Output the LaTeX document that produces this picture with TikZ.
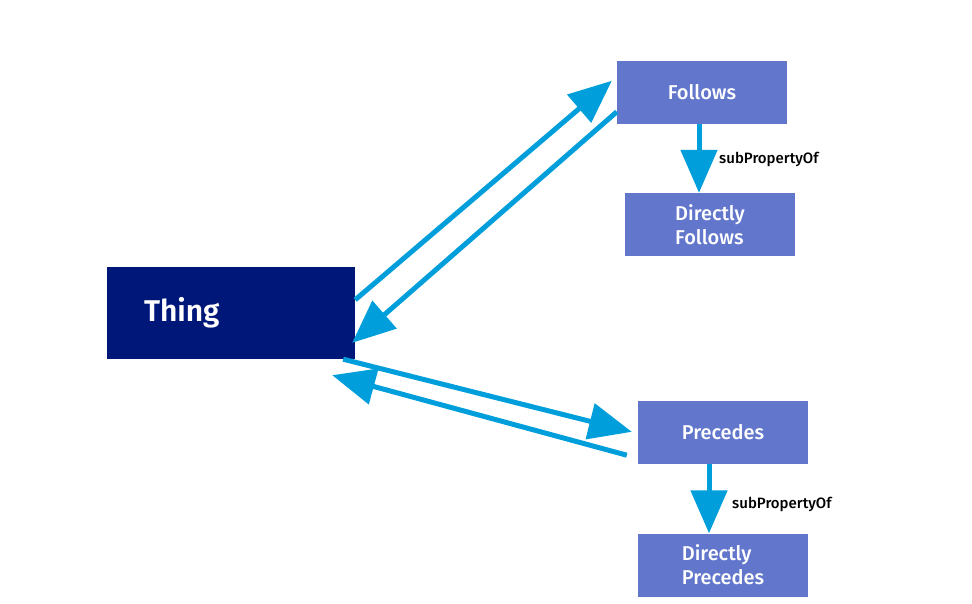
\documentclass[tikz,border=0pt]{standalone}
\usepackage{fontspec}
\setmainfont{Fira Sans}
\newfontfamily\semib{Fira Sans SemiBold}
\newfontfamily\medf{Fira Sans Medium}
\usetikzlibrary{arrows.meta,calc}
\definecolor{navy}{RGB}{0,23,122}
\definecolor{boxblue}{RGB}{98,119,204}
\definecolor{arrblue}{RGB}{0,158,219}
\tikzset{
  prop/.style={fill=boxblue, text=white, minimum width=170pt, minimum height=63pt, inner sep=0pt, font=\medf\fontsize{20}{24}\selectfont, align=left},
  thingbox/.style={fill=navy, text=white, minimum height=92pt, text width=174pt, inner xsep=37pt, inner ysep=0pt, align=left, font=\semib\fontsize{30}{34}\selectfont},
  arr/.style={draw=arrblue, line width=5pt, -{Triangle[length=43pt,width=36pt]}},
  lbl/.style={font=\medf\fontsize{15}{18}\selectfont, text=black, inner sep=0pt, anchor=west}
}
\begin{document}
\begin{tikzpicture}[x=1pt,y=-1pt]
\useasboundingbox (0,0) rectangle (972,603);
\node[thingbox] (thing) at (231,313) {Thing};
\node[prop] (follows) at (702,92.5) {Follows};
\node[prop] (dfollows) at (710,224.5) {Directly\\Follows};
\node[prop] (precedes) at (723,432.5) {Precedes};
\node[prop] (dprecedes) at (723,565) {Directly\\Precedes};
\draw[arr] ($(thing.north east)+(0,33)$) -- ($(follows.north west)+(-5,20)$);
\draw[arr] ($(follows.north west)+(0,51)$) -- ($(thing.north east)+(-3,76)$);
\draw[arr] ($(thing.south east)+(-12,0)$) -- ($(precedes.north west)+(-6,31)$);
\draw[arr] ($(precedes.south west)+(-11,-9)$) -- ($(thing.south east)+(-23,16)$);
\draw[arr] ([xshift=-3pt]follows.south) -- ([xshift=-3pt]follows.south |- dfollows.north);
\draw[arr] ([xshift=-14pt]precedes.south) -- ([xshift=-14pt]precedes.south |- dprecedes.north);
\node[lbl] (l1) at (719,159) {subPropertyOf};
\node[lbl] (l2) at (732,504) {subPropertyOf};
\end{tikzpicture}
\end{document}
